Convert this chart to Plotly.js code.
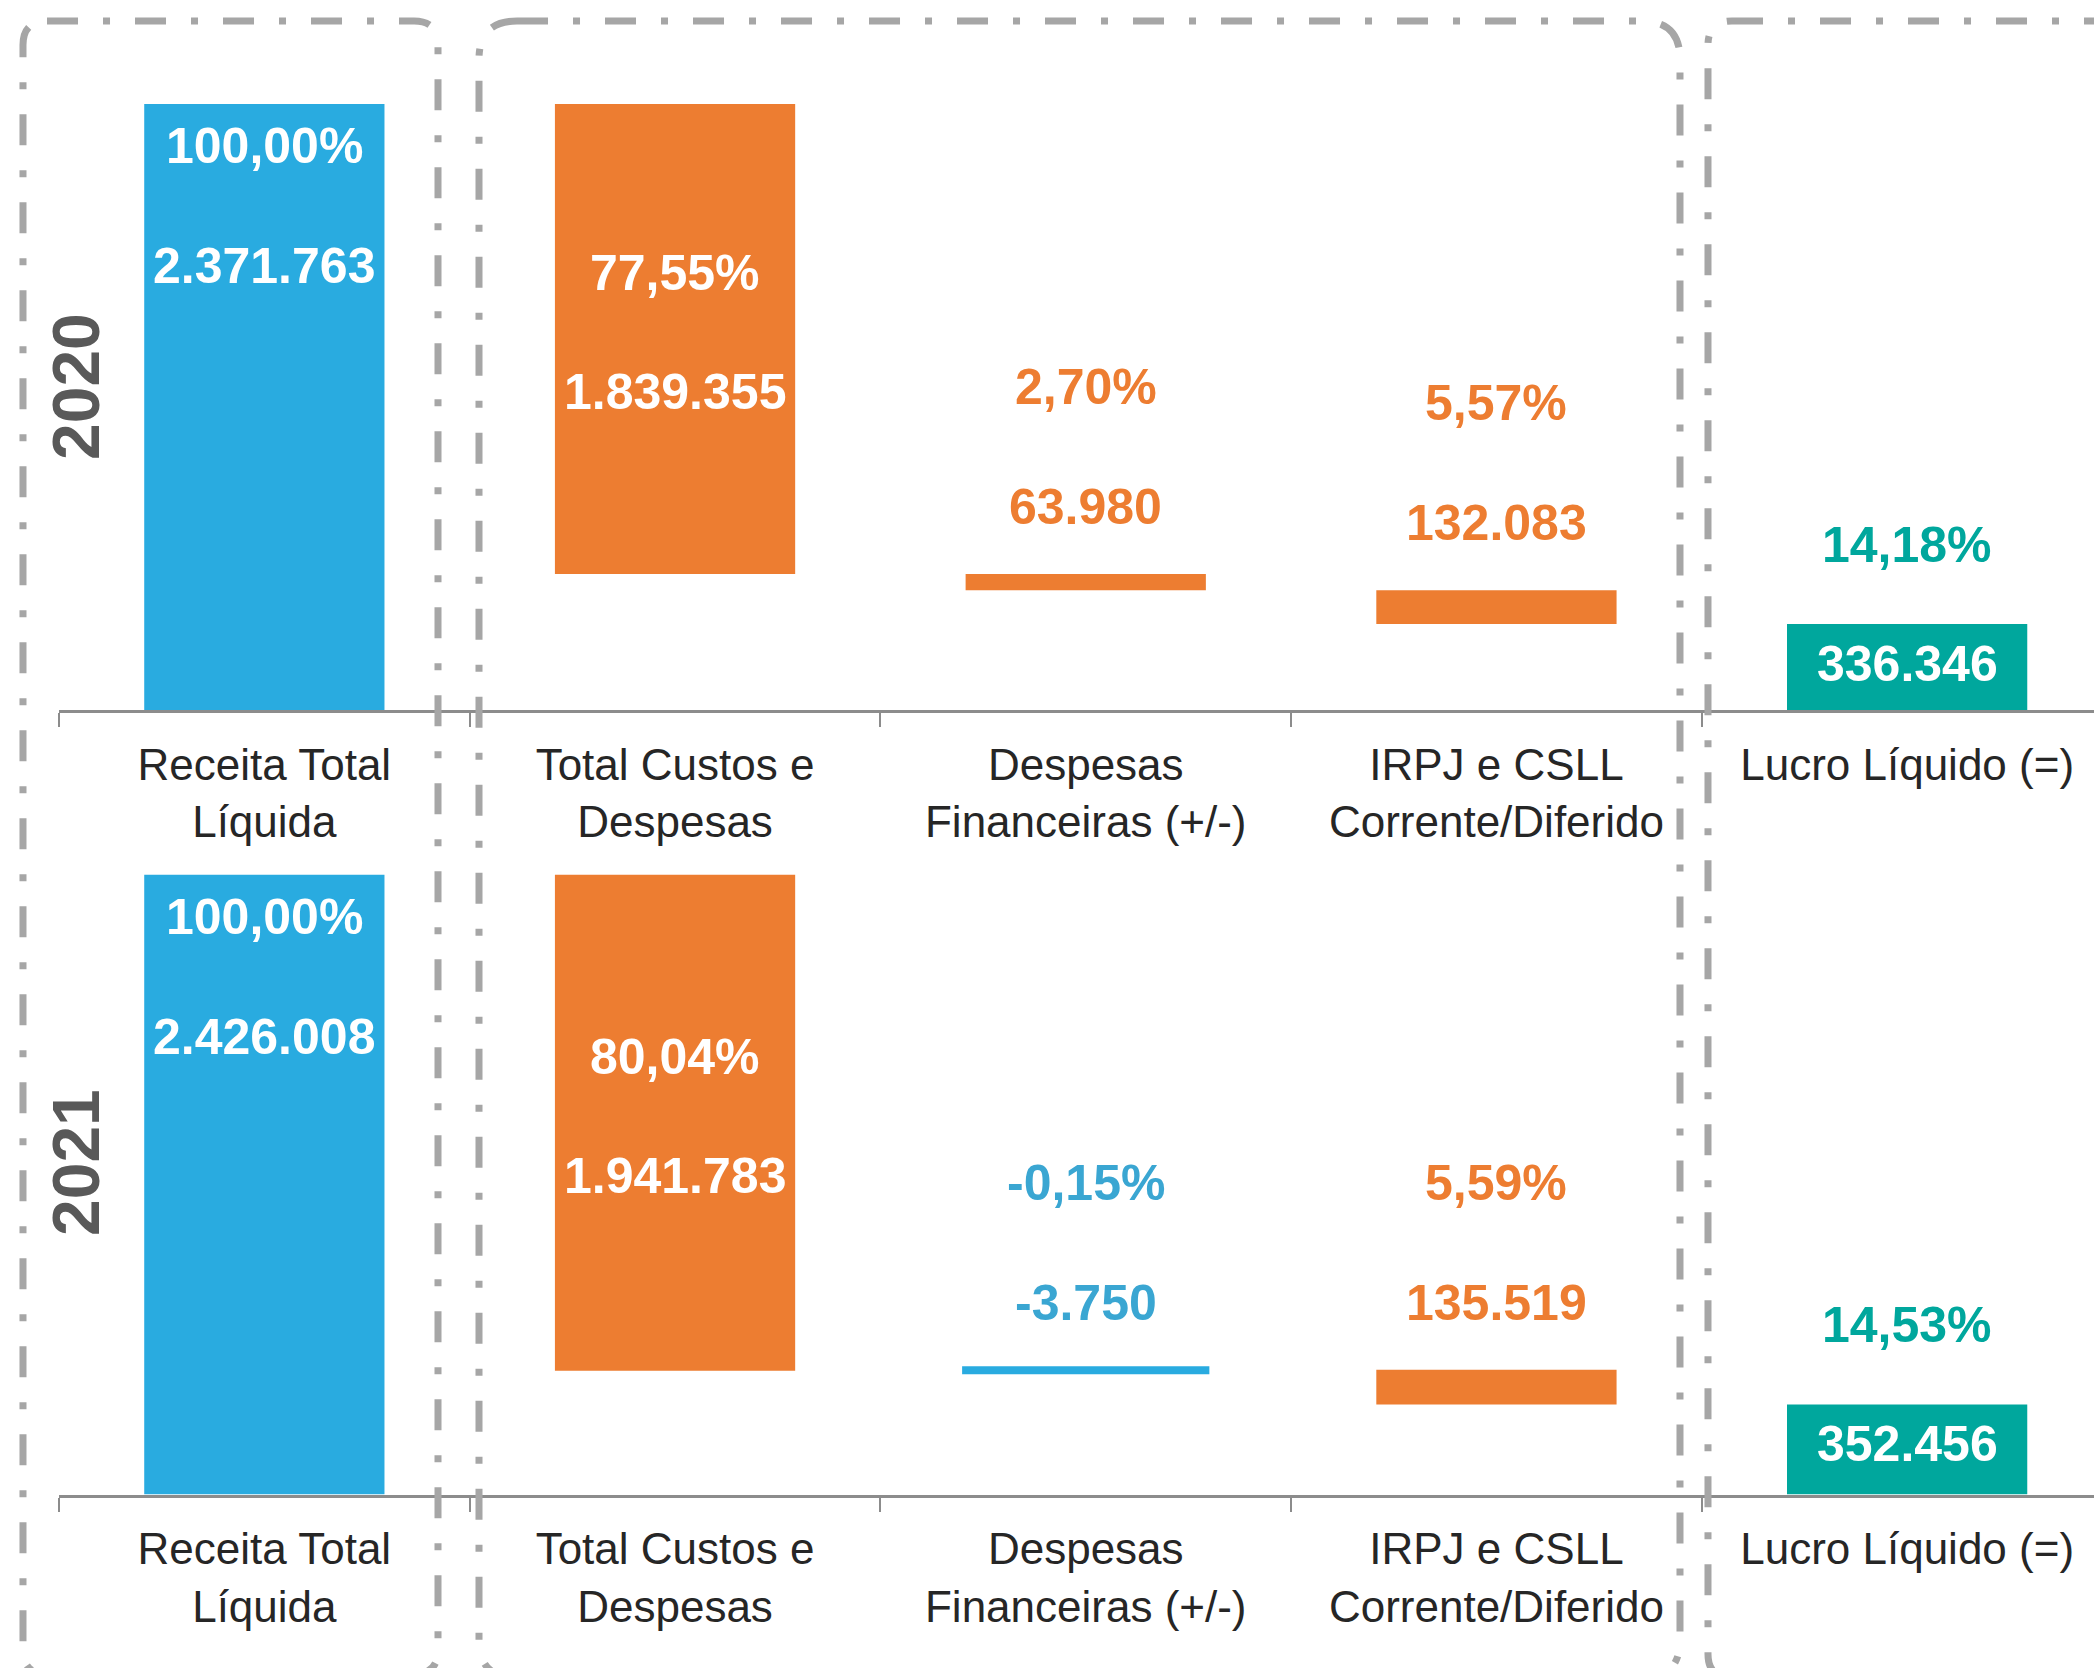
<!DOCTYPE html>
<html>
<head>
<meta charset="utf-8">
<script src="https://cdn.plot.ly/plotly-3.0.1.min.js"></script>
<style>
  html, body { margin: 0; padding: 0; background: white; }
  #chart { width: 2094px; height: 1668px; }
</style>
</head>
<body>
<div id="chart"></div>
<script>
// Data
var categories = ['Receita Total<br>Líquida', 'Total Custos e<br>Despesas', 'Despesas<br>Financeiras (+/-)',
                  'IRPJ e CSLL<br>Corrente/Diferido', 'Lucro Líquido (=)'];
var years = ['2020', '2021'];
var receita = [2371763, 2426008];
var custos = [1839355, 1941783];
var despFinanceiras = [63980, -3750];
var irpjCsll = [132083, 135519];
var lucro = [336346, 352456];

var W = 2094, H = 1668;
var BLUE = '#29ABE0', ORANGE = '#ED7D31', TEAL = '#00A79D', BLUE_TXT = '#3AA6D2';
var FONT = 'Liberation Sans, Arial, sans-serif';
var UNIT_PER_PX = 3914;   // value units per pixel
var YMAX = 2700000;
var axisLineY = [710, 1494.5]; // pixel row of each panel's axis line

function fmtNum(v) {
  var s = Math.abs(v).toString().replace(/\B(?=(\d{3})+(?!\d))/g, '.');
  return (v < 0 ? '-' : '') + s;
}
function fmtPct(v, total) {
  return (v / total * 100).toFixed(2).replace('.', ',') + '%';
}

var data = [];
var annotations = [];

function addLabel(xa, ya, i, y, shift, txt, col) {
  annotations.push({
    xref: xa, yref: ya, x: i, y: y, yshift: shift,
    text: txt, showarrow: false, yanchor: 'middle', xanchor: 'center',
    font: { family: FONT, size: 50, color: col, weight: 700 }
  });
}

years.forEach(function (year, k) {
  var xa = k === 0 ? 'x' : 'x2';
  var ya = k === 0 ? 'y' : 'y2';
  var heights = [], bases = [], colors = [], lineW = [];

  heights.push(receita[k]); bases.push(0); colors.push(BLUE);
  var running = receita[k];
  var steps = [custos[k], despFinanceiras[k], irpjCsll[k]];
  steps.forEach(function (d) {
    var next = running - d;
    bases.push(Math.min(running, next));
    heights.push(Math.abs(d));
    colors.push(d >= 0 ? ORANGE : BLUE);
    running = next;
  });
  heights.push(lucro[k]); bases.push(0); colors.push(TEAL);

  // very thin bars get an outline so they stay visible
  heights.forEach(function (h) { lineW.push(h / UNIT_PER_PX < 4 ? 7 : 0); });

  data.push({
    type: 'bar',
    x: categories,
    y: heights,
    base: bases,
    width: 0.585,
    xaxis: xa,
    yaxis: ya,
    marker: { color: colors, line: { color: colors, width: lineW } },
    hoverinfo: 'skip',
    showlegend: false
  });

  var allVals = [receita[k]].concat(steps).concat([lucro[k]]);
  allVals.forEach(function (v, i) {
    var barTop = bases[i] + heights[i];
    var pct = fmtPct(v, receita[k]);
    var val = fmtNum(v);
    if (i === 0) {
      addLabel(xa, ya, i, barTop, -42, pct, 'white');
      addLabel(xa, ya, i, barTop, -162, val, 'white');
    } else if (i === 1) {
      var mid = bases[i] + heights[i] / 2;
      addLabel(xa, ya, i, mid, 66, pct, 'white');
      addLabel(xa, ya, i, mid, -53, val, 'white');
    } else if (i < 4) {
      var c = colors[i] === ORANGE ? ORANGE : BLUE_TXT;
      addLabel(xa, ya, i, barTop, 187, pct, c);
      addLabel(xa, ya, i, barTop, 67, val, c);
    } else {
      addLabel(xa, ya, i, barTop, 79, pct, TEAL);
      addLabel(xa, ya, i, barTop, -40, val, 'white');
    }
  });

  annotations.push({
    xref: 'paper', yref: 'paper', x: 76 / W, y: 1 - [387, 1163][k] / H,
    text: year, showarrow: false, textangle: -90,
    xanchor: 'center', yanchor: 'middle',
    font: { family: FONT, size: 66, color: '#595959', weight: 700 }
  });
});

// dashed rounded boxes (pixel coords -> paper)
function px(x) { return (x / W).toFixed(5); }
function py(y) { return (1 - y / H).toFixed(5); }
function roundBox(x0, y0, x1, y1, r) {
  return 'M' + px(x0 + r) + ',' + py(y0) +
    ' L' + px(x1 - r) + ',' + py(y0) +
    ' Q' + px(x1) + ',' + py(y0) + ' ' + px(x1) + ',' + py(y0 + r) +
    ' L' + px(x1) + ',' + py(y1 - r) +
    ' Q' + px(x1) + ',' + py(y1) + ' ' + px(x1 - r) + ',' + py(y1) +
    ' L' + px(x0 + r) + ',' + py(y1) +
    ' Q' + px(x0) + ',' + py(y1) + ' ' + px(x0) + ',' + py(y1 - r) +
    ' L' + px(x0) + ',' + py(y0 + r) +
    ' Q' + px(x0) + ',' + py(y0) + ' ' + px(x0 + r) + ',' + py(y0) + ' Z';
}
var boxLine = { color: '#A6A6A6', width: 7, dash: '31px,25px,7px,25px' };
var shapes = [
  { type: 'path', xref: 'paper', yref: 'paper', path: roundBox(23, 21, 438, 1674, 24), line: boxLine, layer: 'above' },
  { type: 'path', xref: 'paper', yref: 'paper', path: roundBox(479, 21, 1680, 1678, 38), line: boxLine, layer: 'above' },
  { type: 'path', xref: 'paper', yref: 'paper', path: roundBox(1708, 21, 2140, 1678, 24), line: boxLine, layer: 'above' }
];

var panelH = YMAX / UNIT_PER_PX / H;
function xAxis(anchor) {
  return {
    domain: [59 / W, 1], anchor: anchor, type: 'category',
    range: [-0.5, 4.455],
    showline: true, linecolor: '#8C8C8C', linewidth: 3,
    ticks: 'outside', tickson: 'boundaries', ticklen: 14, tickwidth: 2, tickcolor: '#8C8C8C',
    ticklabelstandoff: 14,
    tickfont: { family: FONT, size: 44, color: '#262626' },
    showgrid: false, zeroline: false, fixedrange: true
  };
}
function yAxis(anchor, lineY) {
  var b = 1 - lineY / H;
  return {
    domain: [b, b + panelH], anchor: anchor, range: [0, YMAX],
    visible: false, showgrid: false, zeroline: false, fixedrange: true
  };
}

var layout = {
  width: W, height: H,
  margin: { l: 0, r: 0, t: 0, b: 0 },
  paper_bgcolor: 'white', plot_bgcolor: 'white',
  xaxis: xAxis('y'),
  yaxis: yAxis('x', axisLineY[0]),
  xaxis2: xAxis('y2'),
  yaxis2: yAxis('x2', axisLineY[1]),
  annotations: annotations,
  shapes: shapes,
  showlegend: false
};

Plotly.newPlot('chart', data, layout, { staticPlot: true });
</script>
</body>
</html>
